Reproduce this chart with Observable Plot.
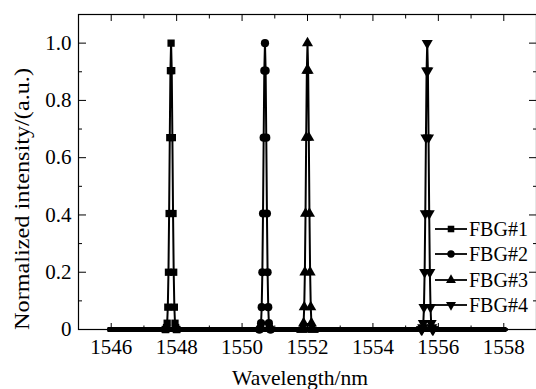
<!DOCTYPE html>
<html>
<head>
<meta charset="utf-8">
<script src="https://cdn.jsdelivr.net/npm/d3@7"></script>
<script src="https://cdn.jsdelivr.net/npm/@observablehq/plot@0.6"></script>
<style>
  html, body { margin: 0; padding: 0; background: #fff; }
  #chart { position: relative; width: 536px; height: 389px; }
</style>
</head>
<body>
<div id="chart"></div>
<script>
// ---- data ----
const seriesNames = ["FBG#1", "FBG#2", "FBG#3", "FBG#4"];
const peakCenters = [1547.83, 1550.70, 1552.00, 1555.66];   // nm
const peakOffsets = [-0.18, -0.16, -0.14, -0.12, -0.10, -0.08, -0.06, -0.04, -0.02, 0,
                      0.02, 0.04, 0.06, 0.08, 0.10, 0.12, 0.14, 0.16, 0.18];
const peakValues  = [0, 0, 0.007, 0.022, 0.078, 0.20, 0.405, 0.67, 0.904, 1.0,
                     0.904, 0.67, 0.405, 0.20, 0.078, 0.022, 0.007, 0, 0];
const baseStart = [1545.9];
const baseEnd = [1558.1];
const symbols = ["square", "circle", "triangle", "triangle"];
const rotations = [0, 0, 0, 180];
const xMajor = [1546, 1548, 1550, 1552, 1554, 1556, 1558];
const xMinor = [1547, 1549, 1551, 1553, 1555, 1557];
const yMajor = [0, 0.2, 0.4, 0.6, 0.8, 1.0];
const yMinor = [0.1, 0.3, 0.5, 0.7, 0.9];
const xTitle = "Wavelength/nm";
const yTitle = "Normalized intensity/(a.u.)";

// ---- build table ----
const table = [];
seriesNames.forEach((s, i) => {
  table.push({series: s, wl: baseStart[0], v: 0});
  peakOffsets.forEach((o, j) => table.push({series: s, wl: +(peakCenters[i] + o).toFixed(3), v: peakValues[j]}));
  table.push({series: s, wl: baseEnd[0], v: 0});
});
const peakOnly = table.filter(d => d.wl !== baseStart[0] && d.wl !== baseEnd[0]);

const font = "Liberation Serif";
const blank = () => "";

const marks = [
  Plot.frame({stroke: "black", strokeWidth: 1.2}),
  // inward ticks
  Plot.axisX({anchor: "bottom", ticks: xMajor, tickSize: -6, tickFormat: blank, label: null}),
  Plot.axisX({anchor: "bottom", ticks: xMinor, tickSize: -3.5, tickFormat: blank, label: null}),
  Plot.axisX({anchor: "top", ticks: xMajor, tickSize: -6, tickFormat: blank, label: null}),
  Plot.axisX({anchor: "top", ticks: xMinor, tickSize: -3.5, tickFormat: blank, label: null}),
  Plot.axisY({anchor: "left", ticks: yMajor, tickSize: -8, tickFormat: blank, label: null}),
  Plot.axisY({anchor: "left", ticks: yMinor, tickSize: -4, tickFormat: blank, label: null}),
  Plot.axisY({anchor: "right", ticks: yMajor, tickSize: -8, tickFormat: blank, label: null}),
  Plot.axisY({anchor: "right", ticks: yMinor, tickSize: -4, tickFormat: blank, label: null}),
  // labels
  Plot.axisX({anchor: "bottom", ticks: xMajor, tickSize: 0, tickPadding: 10, tickFormat: d => String(d), label: null, fontSize: 21, fontFamily: font}),
  Plot.axisY({anchor: "left", ticks: yMajor, tickSize: 0, tickPadding: 7, tickFormat: d => d === 0 ? "0" : d.toFixed(1), label: null, fontSize: 21, fontFamily: font}),
  // series lines
  Plot.line(table, {x: "wl", y: "v", z: "series", stroke: "black", strokeWidth: 2}),
  // thick baseline
  Plot.ruleY([0], {x1: baseStart[0], x2: baseEnd[0], stroke: "black", strokeWidth: 5})
];
seriesNames.forEach((s, i) => {
  marks.push(Plot.dot(peakOnly.filter(d => d.series === s), {
    x: "wl", y: "v", symbol: () => symbols[i], r: 4.1, fill: "black", stroke: "none", rotate: rotations[i]
  }));
});

const plot = Plot.plot({
  width: 536,
  height: 389,
  marginLeft: 78,
  marginRight: 0,
  marginTop: 14,
  marginBottom: 60,
  x: {domain: [1545, 1559], label: null},
  y: {domain: [0, 1.1], label: null},
  symbol: {type: "identity"},
  style: {fontFamily: font, fontSize: "21px", background: "white", color: "black", overflow: "visible"},
  marks
});

document.getElementById("chart").appendChild(plot);

const svg = d3.select(plot);
svg.append("text")
  .attr("x", 300).attr("y", 385)
  .attr("text-anchor", "middle")
  .attr("font-family", font)
  .attr("font-size", 22)
  .attr("textLength", 136).attr("lengthAdjust", "spacingAndGlyphs")
  .attr("fill", "black")
  .text(xTitle);
svg.append("text")
  .attr("transform", "translate(29,199) rotate(-90)")
  .attr("text-anchor", "middle")
  .attr("font-family", font)
  .attr("font-size", 22)
  .attr("textLength", 262).attr("lengthAdjust", "spacingAndGlyphs")
  .attr("fill", "black")
  .text(yTitle);

// legend
const legendY = [229, 254, 280, 305];
const symGen = [d3.symbolSquare, d3.symbolCircle, d3.symbolTriangle, d3.symbolTriangle];
const lg = svg.append("g").attr("font-size", 20).attr("font-family", font);
seriesNames.forEach((s, i) => {
  const g = lg.append("g").attr("transform", `translate(0,${legendY[i]})`);
  g.append("line").attr("x1", 435).attr("x2", 467).attr("y1", 0).attr("y2", 0)
    .attr("stroke", "black").attr("stroke-width", 1.8);
  g.append("path")
    .attr("d", d3.symbol(symGen[i], Math.PI * 3.7 * 3.7)())
    .attr("transform", `translate(451,0) rotate(${rotations[i]})`)
    .attr("fill", "black");
  g.append("text").attr("x", 469).attr("y", 0).attr("dy", "0.35em")
    .attr("text-anchor", "start")
    .attr("fill", "black").text(s);
});
</script>
</body>
</html>
